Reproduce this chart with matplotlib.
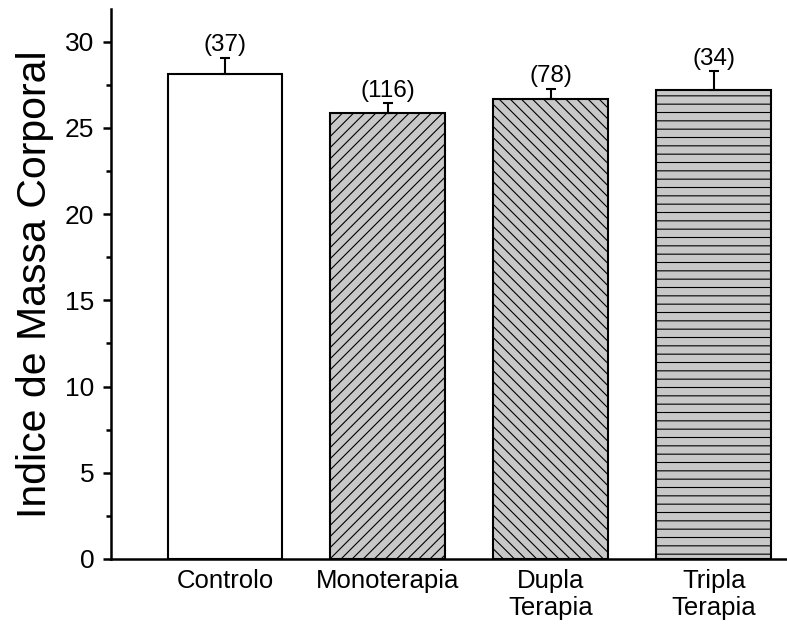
import matplotlib
matplotlib.use("Agg")
import matplotlib.pyplot as plt
import numpy as np

categories = ["Controlo", "Monoterapia", "Dupla\nTerapia", "Tripla\nTerapia"]
values = [28.14, 25.87, 26.69, 27.21]
errors = [0.93, 0.58, 0.58, 1.10]
counts = ["(37)", "(116)", "(78)", "(34)"]
colors = ["white", "#c8c8c8", "#c8c8c8", "#c8c8c8"]
hatches = ["", "///", "\\\\\\", "--"]

plt.rcParams['font.family'] = ['Liberation Sans', 'DejaVu Sans']
plt.rcParams['hatch.linewidth'] = 0.8
plt.rcParams['hatch.color'] = '#3a3a3a'

fig = plt.figure(figsize=(7.87, 6.25), dpi=100)
ax = fig.add_axes([0.141, 0.1056, 0.859, 0.88])

x = np.arange(len(categories))
bars = ax.bar(x, values, width=0.705, color=colors, edgecolor="black",
              linewidth=1.5, zorder=2)
for b, h in zip(bars, hatches):
    b.set_hatch(h)

ax.errorbar(x, values, yerr=[np.zeros(len(values)), errors], fmt="none",
            ecolor="black", elinewidth=1.5, capsize=3.6, capthick=1.5, zorder=3)

for xi, v, e, c in zip(x, values, errors, counts):
    ax.annotate(c, (xi, v + e), xytext=(0, 1), textcoords="offset points",
                ha="center", va="bottom", fontsize=17.5)

ax.set_xlim(-0.70, 3.45)
ax.set_ylim(0, 31.9)
ax.set_xticks(x)
ax.set_xticklabels(categories, fontsize=18.5, linespacing=1.15)
ax.tick_params(axis="x", length=0, pad=7)
ax.set_yticks([0, 5, 10, 15, 20, 25, 30])
ax.set_yticks(np.arange(2.5, 31, 5), minor=True)
ax.tick_params(axis="y", which="major", length=6, width=1.8, labelsize=19, pad=6)
ax.tick_params(axis="y", which="minor", length=3.5, width=1.8)
ax.set_ylabel("Indice de Massa Corporal", fontsize=29.5, labelpad=8)

for s in ["top", "right"]:
    ax.spines[s].set_visible(False)
for s in ["left", "bottom"]:
    ax.spines[s].set_linewidth(1.8)

fig.savefig("out.png", dpi=100)
